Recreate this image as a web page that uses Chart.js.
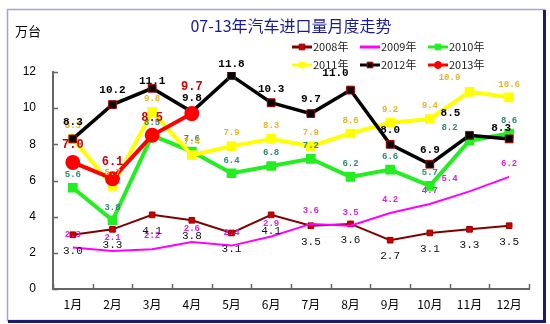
<!DOCTYPE html>
<html>
<head>
<meta charset="utf-8">
<script src="https://cdn.jsdelivr.net/npm/chart.js@4/dist/chart.umd.min.js"></script>
<style>
  html, body { margin: 0; padding: 0; background: #fff; }
  #wrap { width: 550px; height: 324px; }
</style>
</head>
<body>
<div id="wrap"><canvas id="chart" width="550" height="324"></canvas></div>
<script>
// Monthly import volumes, 10k units
const months = ['1月', '2月', '3月', '4月', '5月', '6月', '7月', '8月', '9月', '10月', '11月', '12月'];
const seriesNames = ['2008年', '2009年', '2010年', '2011年', '2012年', '2013年'];
const y2008 = [3.0, 3.3, 4.1, 3.8, 3.1, 4.1, 3.5, 3.6, 2.7, 3.1, 3.3, 3.5];
const y2009 = [2.3, 2.1, 2.2, 2.6, 2.4, 2.9, 3.6, 3.5, 4.2, 4.7, 5.4, 6.2];
const y2010 = [5.6, 3.8, 8.5, 7.6, 6.4, 6.8, 7.2, 6.2, 6.6, 5.7, 8.2, 8.6];
const y2011 = [8.3, 5.7, 9.8, 7.4, 7.9, 8.3, 7.9, 8.6, 9.2, 9.4, 10.9, 10.6];
const y2012 = [8.3, 10.2, 11.1, 9.8, 11.8, 10.3, 9.7, 11.0, 8.0, 6.9, 8.5, 8.3];
const y2013 = [7.0, 6.1, 8.5, 9.7];
const yMin = 0, yMax = 12, yStep = 2;

const lineColors = ['#800000', '#ff00ff', '#22ee22', '#ffff00', '#000000', '#ff0000'];

// value label look per series: colour, font, default offset
const labelStyles = [
  { color: '#111', font: '11px "Liberation Mono"', dy: 16 },
  { color: '#e020e0', font: 'bold 9px "Liberation Mono"', dy: -13 },
  { color: '#2e8b74', font: 'bold 9px "Liberation Mono"', dy: -13 },
  { color: '#e8b426', font: 'bold 9px "Liberation Mono"', dy: -13 },
  { color: '#000', font: 'bold 11px "Liberation Mono"', dy: -14 },
  { color: '#d00000', font: 'bold 12px "Liberation Mono"', dy: -17 }
];
// a few labels get pushed aside where they would collide
const labelNudge = {
  1: { 10: [-20, 0] },
  2: { 10: [-20, 0] },
  3: { 10: [-20, -1] },
  4: { 0: [0, -3], 2: [0, 7], 4: [0, 3], 7: [-15, -3], 10: [-19, -8], 11: [-8, 3] },
  5: { 3: [0, -10] }
};
// labels drawn in this order so the heavier ones end up on top
const labelOrder = [1, 2, 3, 0, 4, 5];

const datasets = [
  { label: seriesNames[0], data: y2008, borderColor: lineColors[0], borderWidth: 2,
    pointStyle: 'rect', pointRadius: 4, pointBackgroundColor: '#cc0000', pointBorderColor: '#990000', pointBorderWidth: 1, order: 5 },
  { label: seriesNames[1], data: y2009, borderColor: lineColors[1], borderWidth: 2,
    pointRadius: 0, order: 4 },
  { label: seriesNames[2], data: y2010, borderColor: lineColors[2], borderWidth: 4,
    pointStyle: 'rect', pointRadius: 4, pointBackgroundColor: lineColors[2], pointBorderColor: lineColors[2], order: 3 },
  { label: seriesNames[3], data: y2011, borderColor: lineColors[3], borderWidth: 4,
    pointStyle: 'rect', pointRadius: 4, pointBackgroundColor: lineColors[3], pointBorderColor: lineColors[3], order: 2 },
  { label: seriesNames[4], data: y2012, borderColor: lineColors[4], borderWidth: 3.5,
    pointStyle: 'rect', pointRadius: 5.5, pointBackgroundColor: '#000', pointBorderColor: '#b00000', pointBorderWidth: 1, order: 1 },
  { label: seriesNames[5], data: y2013, borderColor: lineColors[5], borderWidth: 4,
    pointStyle: 'circle', pointRadius: 5.5, pointBackgroundColor: lineColors[5], pointBorderColor: lineColors[5], order: 0 }
];
datasets.forEach(d => { d.tension = 0; d.fill = false; d.pointHoverRadius = d.pointRadius; });

// Frame, title, unit and legend
const decorPlugin = {
  id: 'decor',
  beforeDraw(chart) {
    const ctx = chart.ctx;
    ctx.save();
    ctx.fillStyle = '#fff';
    ctx.fillRect(0, 0, chart.width, chart.height);
    ctx.strokeStyle = '#a4a4d2';
    ctx.lineWidth = 1.5;
    ctx.strokeRect(7.5, 9.5, 537, 311);
    ctx.strokeStyle = '#1c1c6e';
    ctx.lineWidth = 3;
    ctx.beginPath();
    ctx.moveTo(544.5, 10); ctx.lineTo(544.5, 322.5);
    ctx.moveTo(8, 321.5); ctx.lineTo(546, 321.5);
    ctx.stroke();
    ctx.restore();
  },
  afterDraw(chart) {
    const ctx = chart.ctx;
    ctx.save();
    ctx.textBaseline = 'middle';
    ctx.fillStyle = '#1a1a96';
    ctx.font = '16px "Noto Sans CJK SC"';
    ctx.textAlign = 'center';
    ctx.fillText('07-13年汽车进口量月度走势', 291, 26);
    ctx.fillStyle = '#000';
    ctx.font = '13px "Noto Sans CJK SC"';
    ctx.textAlign = 'left';
    ctx.fillText('万台', 15, 31);

    // legend: 3 columns x 2 rows
    const colX = [292, 360, 428];
    const rowY = [47, 65];
    ctx.font = '11px "Noto Sans CJK SC"';
    datasets.forEach((d, i) => {
      const x = colX[i % 3], y = rowY[Math.floor(i / 3)];
      ctx.strokeStyle = d.borderColor;
      ctx.lineWidth = 3;
      ctx.beginPath();
      ctx.moveTo(x, y); ctx.lineTo(x + 20, y);
      ctx.stroke();
      if (d.pointRadius > 0) {
        ctx.fillStyle = d.pointBackgroundColor;
        ctx.strokeStyle = d.pointBorderColor;
        ctx.lineWidth = d.pointBorderWidth || 1;
        Chart.helpers.drawPoint(ctx, {
          pointStyle: d.pointStyle, radius: d.pointStyle === 'circle' ? 3.5 : 4, rotation: 0,
          borderWidth: d.pointBorderWidth || 1
        }, x + 10, y);
      }
      ctx.fillStyle = '#222';
      ctx.fillText(d.label, x + 21, y);
    });

    // short inward tick marks on both axes
    const xs = chart.scales.x, ys = chart.scales.y;
    ctx.strokeStyle = '#666';
    ctx.lineWidth = 1.5;
    ctx.beginPath();
    for (let v = yMin; v <= yMax; v += yStep) {
      const py = Math.round(ys.getPixelForValue(v)) + 0.5;
      ctx.moveTo(xs.left, py); ctx.lineTo(xs.left + 5, py);
    }
    for (let i = 0; i <= months.length; i++) {
      const px = Math.round(xs.left + i * xs.width / months.length) + 0.5;
      ctx.moveTo(px, ys.bottom); ctx.lineTo(px, ys.bottom - 5);
    }
    ctx.stroke();
    ctx.restore();
  }
};

// value labels next to each point
const valueLabels = {
  id: 'valueLabels',
  afterDatasetsDraw(chart) {
    const ctx = chart.ctx;
    ctx.save();
    ctx.textAlign = 'center';
    ctx.textBaseline = 'middle';
    labelOrder.forEach(i => {
      const meta = chart.getDatasetMeta(i);
      const st = labelStyles[i];
      ctx.font = st.font;
      ctx.fillStyle = st.color;
      meta.data.forEach((pt, j) => {
        const n = (labelNudge[i] && labelNudge[i][j]) || [0, 0];
        ctx.fillText(datasets[i].data[j].toFixed(1), pt.x + n[0], pt.y + st.dy + n[1]);
      });
    });
    ctx.restore();
  }
};

new Chart(document.getElementById('chart'), {
  type: 'line',
  data: { labels: months, datasets: datasets },
  options: {
    responsive: false,
    animation: false,
    devicePixelRatio: 1,
    layout: { padding: { top: 72, right: 21, left: 0, bottom: 0 } },
    plugins: { legend: { display: false }, tooltip: { enabled: false } },
    scales: {
      x: {
        offset: true,
        grid: { display: false, drawTicks: false },
        border: { display: true, color: '#666', width: 2 },
        ticks: { padding: 8, color: '#000', font: { family: '"Noto Sans CJK SC"', size: 12 } },
        afterFit: s => { s.height = 35; }
      },
      y: {
        min: yMin, max: yMax,
        grid: { display: false, drawTicks: false },
        border: { display: true, color: '#666', width: 2 },
        ticks: { stepSize: yStep, padding: 17, color: '#000', font: { family: '"Liberation Sans"', size: 12 } },
        afterFit: s => { s.width = 53; }
      }
    }
  },
  plugins: [decorPlugin, valueLabels]
});
</script>
</body>
</html>
